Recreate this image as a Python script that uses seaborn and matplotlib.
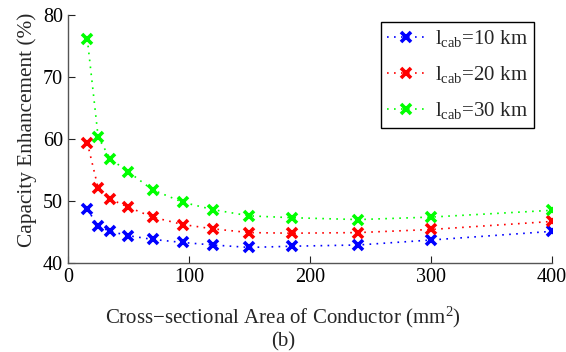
import matplotlib
matplotlib.use("Agg")
import matplotlib.pyplot as plt
import seaborn as sns
import pandas as pd

# Conductor cross-sections (mm^2) and capacity enhancement (%) per cable length
area = [16, 25, 35, 50, 70, 95, 120, 150, 185, 240, 300, 400]
enh_10km = [48.7, 45.9, 45.1, 44.4, 43.8, 43.3, 42.9, 42.5, 42.7, 42.9, 43.7, 45.1]
enh_20km = [59.4, 52.1, 50.3, 49.0, 47.4, 46.2, 45.5, 44.9, 44.8, 44.9, 45.4, 46.7]
enh_30km = [76.2, 60.3, 56.8, 54.7, 51.8, 49.8, 48.6, 47.6, 47.3, 47.0, 47.4, 48.5]
series_labels = [r"l$_{\rm cab}$=10 km", r"l$_{\rm cab}$=20 km", r"l$_{\rm cab}$=30 km"]
colors = ["#0000ff", "#ff0000", "#00ff00"]
x_ticks = [0, 100, 200, 300, 400]
y_ticks = [40, 50, 60, 70, 80]

sns.set_style("ticks")
plt.rcParams["font.family"] = ["Liberation Serif", "DejaVu Serif"]
plt.rcParams["mathtext.fontset"] = "custom"
plt.rcParams["mathtext.rm"] = "Liberation Serif"
plt.rcParams["mathtext.it"] = "Liberation Serif:italic"

frames = []
for lab, vals in zip(series_labels, [enh_10km, enh_20km, enh_30km]):
    frames.append(pd.DataFrame({"area": area, "enh": vals, "series": lab}))
df = pd.concat(frames, ignore_index=True)

fig = plt.figure(figsize=(5.66, 3.52), dpi=100)
ax = fig.add_axes([0.120, 0.253, 0.855, 0.704])

for lab, col in zip(series_labels, colors):
    sub = df[df["series"] == lab]
    sns.lineplot(data=sub, x="area", y="enh", ax=ax, color=col, linestyle=(0, (1, 3.2)),
                 linewidth=1.2, marker="x", markersize=6.5, markeredgewidth=2.6,
                 markeredgecolor=col, label=lab)

ax.set_xlim(0, 400)
ax.set_ylim(40, 80)
ax.set_xticks(x_ticks)
ax.set_yticks(y_ticks)
ax.tick_params(direction="in", length=5, width=0.8, labelsize=14.5, colors="#222222",
               labelcolor="black")
for s in ["top", "right"]:
    ax.spines[s].set_visible(False)
for s in ["left", "bottom"]:
    ax.spines[s].set_color("#555555")
    ax.spines[s].set_linewidth(1.0)

ax.set_xlabel(r"Cross$-$sectional Area of Conductor (mm$^2$)", fontsize=15, labelpad=13)
ax.set_ylabel("Capacity Enhancement (%)", fontsize=15.3, labelpad=4)
ax.xaxis.label.set_x((283 - 68) / 484)
ax.yaxis.label.set_y((263 - 130) / 248)

leg = ax.legend(loc="upper right", bbox_to_anchor=(0.964, 0.972), fontsize=15,
                frameon=True, fancybox=False, edgecolor="black", framealpha=1,
                handlelength=1.8, handletextpad=0.5, borderpad=0.3, labelspacing=0.72,
                borderaxespad=0.0)
leg.get_frame().set_linewidth(1.0)

fig.text(0.5, 0.028, "(b)", ha="center", va="center", fontsize=15)

fig.savefig("out.png", dpi=100)
